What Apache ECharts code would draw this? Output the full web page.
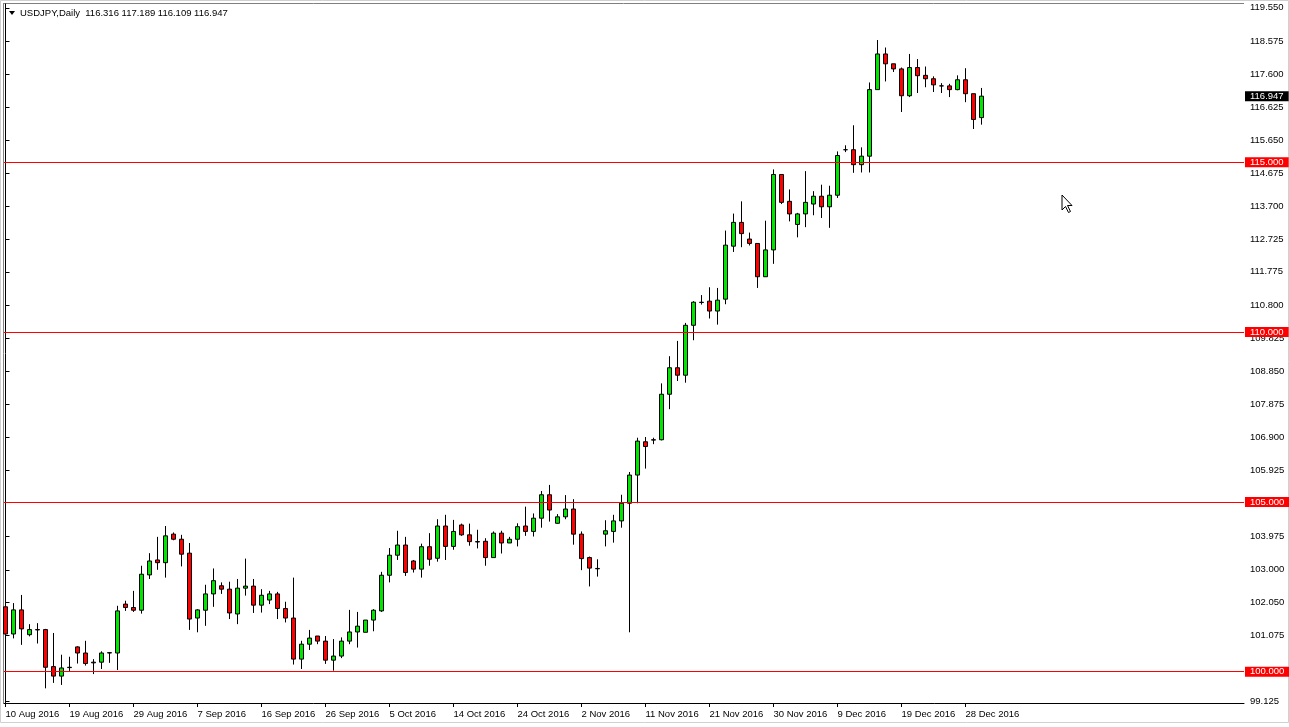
<!DOCTYPE html>
<html><head><meta charset="utf-8">
<script src="https://cdn.jsdelivr.net/npm/echarts@6.0.0/dist/echarts.min.js"></script>
<style>html,body{margin:0;padding:0;background:#fff;overflow:hidden}#c{width:1289px;height:727px}</style>
</head><body><div id="c"></div>
<script>
const symbolName = 'USDJPY';
const periodName = 'Daily';

const opens = [101.91,101.11,101.82,101.09,101.24,101.24,100.15,99.87,100.13,100.73,
100.55,100.28,100.28,100.55,100.55,101.99,101.89,101.81,102.85,103.29,
103.21,104.05,103.90,103.49,101.58,101.81,102.29,102.53,102.43,101.70,
102.46,102.52,101.96,102.11,102.29,101.86,101.58,100.37,100.81,101.05,
100.90,100.34,100.46,100.90,101.17,101.16,101.52,101.79,102.84,103.43,
103.73,103.26,103.02,103.68,103.34,104.29,103.69,104.32,104.03,103.83,
103.84,103.36,104.08,103.79,103.90,104.29,104.13,104.52,105.21,104.37,
104.56,104.79,104.05,103.36,103.04,104.05,104.13,104.44,104.96,105.79,
106.77,106.83,106.83,108.17,108.95,108.73,110.20,110.88,110.91,110.62,
110.97,112.53,113.23,112.74,112.61,111.63,112.42,114.64,113.85,113.17,
113.48,113.77,114.00,113.69,114.03,115.37,115.37,114.93,115.18,117.14,
118.19,117.90,117.75,116.96,117.79,117.56,117.46,117.25,117.25,117.14,
117.43,117.02,116.316];

const highs = [101.97,102.02,102.26,101.40,101.43,101.26,101.14,100.50,100.44,100.75,
100.91,100.37,100.60,100.58,101.94,102.09,102.38,103.12,103.49,103.97,
104.29,104.10,104.03,103.79,101.84,102.56,103.04,102.63,102.65,102.73,
103.33,102.73,102.43,102.38,102.35,102.06,102.77,100.91,101.23,101.05,
101.05,100.96,101.01,101.82,101.76,101.52,101.84,102.94,103.64,104.15,
103.97,103.29,103.77,104.08,104.49,104.62,104.47,104.36,104.36,104.18,
103.93,104.13,104.15,103.97,104.37,104.86,104.66,105.32,105.50,104.64,
105.20,105.08,104.13,103.39,103.31,104.46,104.62,105.21,105.88,106.89,
106.91,106.89,108.49,109.29,109.74,110.27,110.91,111.09,111.32,111.30,
112.99,113.49,113.85,112.93,112.61,113.28,114.79,114.64,114.20,113.51,
114.74,114.15,114.34,114.31,115.32,115.50,116.09,115.44,117.35,118.60,
118.38,117.90,117.79,118.19,118.04,117.82,117.53,117.33,117.31,117.56,
117.77,117.02,117.189];

const lows = [100.94,100.98,100.79,101.04,100.83,99.51,99.67,99.61,100.00,100.24,
100.18,99.93,100.08,100.26,100.05,101.79,101.76,101.71,102.73,103.00,
102.77,103.87,103.10,101.23,101.16,101.35,101.91,102.29,101.55,101.40,
102.24,101.73,101.74,101.99,101.55,101.45,100.21,100.08,100.64,100.81,
100.23,100.03,100.40,100.81,100.71,101.16,101.19,101.76,102.63,103.29,
102.82,102.92,102.77,103.12,103.24,103.29,103.59,104.00,103.71,103.63,
103.12,103.36,103.48,103.79,103.69,104.00,103.98,104.24,104.42,104.36,
104.49,103.74,102.99,102.51,102.80,103.69,103.80,104.24,101.16,104.96,
105.98,106.70,106.81,107.73,108.56,108.51,109.76,110.81,110.40,110.22,
110.82,112.36,112.50,112.55,111.30,111.63,112.01,113.77,113.26,112.79,
113.09,113.44,113.36,113.07,113.95,115.30,114.69,114.70,114.70,117.14,
117.38,117.66,116.48,116.92,117.04,117.21,117.07,117.04,116.92,117.12,
116.77,115.98,116.109];

const closes = [101.11,101.82,101.26,101.24,101.23,100.13,99.87,100.11,100.12,100.55,
100.24,100.26,100.55,100.56,101.79,101.89,101.81,102.87,103.26,103.21,
104.00,103.90,103.46,101.55,101.82,102.29,102.68,102.43,101.73,102.46,
102.52,101.96,102.25,102.29,101.86,101.58,100.37,100.81,100.99,100.90,
100.34,100.46,100.90,101.17,101.34,101.52,101.81,102.84,103.43,103.73,
102.92,103.02,103.68,103.31,104.29,103.69,104.13,104.03,103.83,103.82,
103.36,104.08,103.79,103.90,104.27,104.13,104.52,105.21,104.76,104.56,
104.79,104.05,103.33,103.05,103.03,104.15,104.44,104.96,105.79,106.79,
106.63,106.82,108.17,108.95,108.73,110.20,110.88,110.87,110.62,110.94,
112.56,113.23,112.90,112.61,111.63,112.42,114.64,113.82,113.48,113.48,
113.82,114.00,113.69,114.03,115.20,115.37,114.93,115.18,117.14,118.19,
117.90,117.75,116.96,117.79,117.55,117.46,117.28,117.25,117.14,117.43,
117.02,116.26,116.947];

const dateTickBars = [0,8,16,24,32,40,48,56,64,72,80,88,96,104,112,120];
const dateTickLabels = ['10 Aug 2016','19 Aug 2016','29 Aug 2016','7 Sep 2016','16 Sep 2016','26 Sep 2016',
  '5 Oct 2016','14 Oct 2016','24 Oct 2016','2 Nov 2016','11 Nov 2016','21 Nov 2016','30 Nov 2016',
  '9 Dec 2016','19 Dec 2016','28 Dec 2016'];
const priceTicks = [119.55,118.575,117.6,116.625,115.65,114.675,113.7,112.725,111.775,110.8,109.825,
  108.85,107.875,106.9,105.925,103.975,103.0,102.05,101.075,99.125];
const levelLines = [115,110,105,100];

const FONT = '"Liberation Sans", Arial, sans-serif';
const chart = echarts.init(document.getElementById('c'), null, {renderer:'canvas'});
const last = opens.length - 1;
const candleData = opens.map((o,i)=>[i, o, closes[i], lows[i], highs[i]]);
const headerText = symbolName + ',' + periodName + '  ' +
  [opens[last], highs[last], lows[last], closes[last]].map(v=>v.toFixed(3)).join(' ');

const markData = levelLines.map(v=>({
  yAxis: v,
  lineStyle:{color:'#ff0000', width:1, type:'solid'},
  label:{backgroundColor:'#ff0000', color:'#ffffff'}
}));
markData.push({
  yAxis: closes[last],
  lineStyle:{color:'rgba(0,0,0,0)', width:1, type:'solid'},
  label:{backgroundColor:'#000000', color:'#ffffff'}
});

const option = {
  animation:false,
  backgroundColor:'#ffffff',
  grid:{left:4, top:4, width:1240, height:699, show:false},
  xAxis:{
    type:'value', min:-0.1875, max:154.8125,
    axisLine:{show:true, onZero:false, lineStyle:{color:'#000', width:1}},
    axisTick:{show:true, inside:false, length:4, customValues:dateTickBars, lineStyle:{color:'#000'}},
    axisLabel:{
      customValues:dateTickBars, align:'left', margin:6,
      fontSize:9.5, color:'#000', fontFamily:FONT,
      formatter: v => { const k = dateTickBars.indexOf(Math.round(v)); return k >= 0 ? dateTickLabels[k] : ''; }
    },
    splitLine:{show:false}
  },
  yAxis:{
    type:'value', position:'right', min:99.078, max:119.661,
    axisLine:{show:true, lineStyle:{color:'#000', width:1}},
    axisTick:{show:true, inside:false, length:4, customValues:priceTicks, lineStyle:{color:'#000'}},
    axisLabel:{customValues:priceTicks, formatter: v => v.toFixed(3), margin:6,
      fontSize:9.5, color:'#000', fontFamily:FONT},
    splitLine:{show:false}
  },
  series:[{
    type:'candlestick',
    data:candleData,
    encode:{x:0, y:[1,2,3,4]},
    barWidth:4,
    clip:true,
    silent:true,
    itemStyle:{color:'#00e600', color0:'#ff0000', borderColor:'#000', borderColor0:'#000',
      borderColorDoji:'#000', borderWidth:1},
    markLine:{
      symbol:'none', silent:true, animation:false, precision:3,
      label:{show:true, position:'end', distance:1, fontSize:9.5, fontFamily:FONT,
        padding:[1,5,0,5], lineHeight:9, formatter: p => Number(p.value).toFixed(3)},
      data: markData
    }
  }],
  graphic:[
    {type:'rect', shape:{x:0.5, y:0.5, width:1288, height:722}, style:{fill:'none', stroke:'#d0d0d0', lineWidth:1}, silent:true},
    {type:'line', shape:{x1:3.5, y1:3, x2:3.5, y2:703.5}, style:{stroke:'#808080', lineWidth:1}, silent:true},
    {type:'line', shape:{x1:3, y1:3.5, x2:1244, y2:3.5}, style:{stroke:'#808080', lineWidth:1}, silent:true},
    {type:'polygon', shape:{points:[[9,11],[15,11],[12,15]]}, style:{fill:'#000'}, silent:true},
    {type:'text', x:20, y:13, style:{text:headerText, fontSize:9.5, fontFamily:FONT, fill:'#000', verticalAlign:'middle', align:'left'}, silent:true},
    {type:'polygon', shape:{points:[[1062,195],[1062,210],[1065.5,206.5],[1068.5,212.5],[1070.5,211.5],[1067.5,205.5],[1072,205.5]]},
      style:{fill:'#fff', stroke:'#000', lineWidth:1}, silent:true}
  ]
};
chart.setOption(option);
</script></body></html>
